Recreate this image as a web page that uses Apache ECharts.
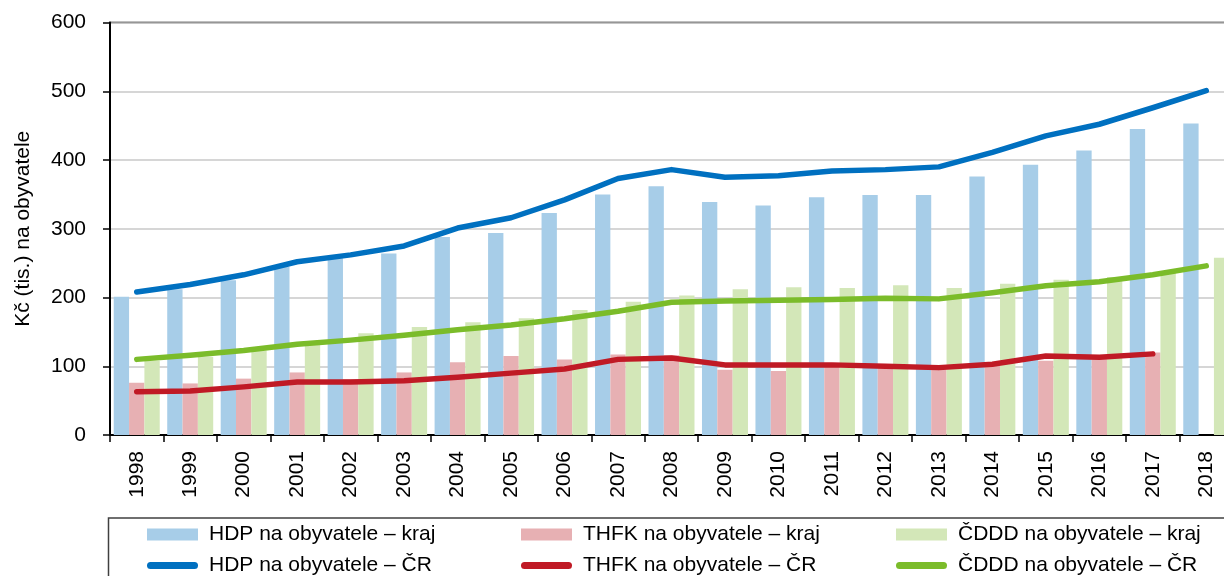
<!DOCTYPE html>
<html><head><meta charset="utf-8">
<script src="https://cdn.jsdelivr.net/npm/echarts@6/dist/echarts.min.js"></script>
<style>html,body{margin:0;padding:0;background:#fff}#c{width:1224px;height:576px}</style>
</head><body><div id="c"></div>
<script>
const years = ['1998','1999','2000','2001','2002','2003','2004','2005','2006','2007','2008','2009','2010','2011','2012','2013','2014','2015','2016','2017','2018'];
const hdpKraj = [201,212,225,245,257,264,288,294,323,350,362,339,334,346,349,349,376,393,414,445,453];
const thfkKraj = [76,75,82,91,81,91,106,115,110,117,116,95,93,101,99,96,103,108,114,120,null];
const cdddKraj = [108,114,123,131,148,157,164,170,182,194,203,212,215,214,218,214,220,226,230,237,258];
const hdpCR = [208,219,233,252,262,275,301,316,342,373,386,375,377,384,386,390,411,435,452,476,501];
const thfkCR = [63,64,70,77,77,79,84,90,96,110,112,102,102,102,100,98,103,115,113,118,null];
const cdddCR = [110,116,123,132,138,145,153,160,169,180,193,195,196,197,199,198,207,217,223,233,246];
const yTicks = [0,100,200,300,400,500,600];

const names = ['HDP na obyvatele – kraj','THFK na obyvatele – kraj','ČDDD na obyvatele – kraj',
               'HDP na obyvatele – ČR','THFK na obyvatele – ČR','ČDDD na obyvatele – ČR'];
const FONT = '"Liberation Sans", Arial, sans-serif';
const barColors = ['#a7cde8','#e7b0b3','#d3e7b8'];
const lineColors = ['#0070c0','#c01a25','#7bbc2a'];
const lineIcon = 'path://M3.5,0 H47.5 A3.5,3.5 0 0 1 47.5,7 H3.5 A3.5,3.5 0 0 1 3.5,0 Z';

const colX = [147,521,896];
const rowY = [524,555];
const legends = names.map((n,i)=>{
  const isLine = i>=3;
  return {
    show:true, data:[isLine?{name:n,icon:lineIcon}:{name:n,icon:'rect'}],
    left: colX[i%3], top: rowY[isLine?1:0], padding:0,
    itemWidth:51, itemHeight: isLine?7:12,
    selectedMode:false,
    textStyle:{fontSize:21,color:'#000',fontFamily:FONT,padding:[0,0,0,6]}
  };
});

const chart = echarts.init(document.getElementById('c'));
const barData = [hdpKraj,thfkKraj,cdddKraj];
const lineData = [hdpCR,thfkCR,cdddCR];
const series = [];
for(let i=0;i<3;i++){
  series.push({name:names[i],type:'bar',data:barData[i],barGap:'0%',barCategoryGap:'14%',
    itemStyle:{color:barColors[i]},z:2,animation:false});
}
for(let i=0;i<3;i++){
  series.push({name:names[i+3],type:'line',data:lineData[i],symbol:'none',showSymbol:false,
    lineStyle:{color:lineColors[i],width:5.5,cap:'round',join:'round'},itemStyle:{color:lineColors[i]},
    z:5,animation:false,connectNulls:false});
}
chart.setOption({
  animation:false,
  textStyle:{fontFamily:FONT},
  grid:{left:110,top:22.5,right:-9,bottom:141,containLabel:false,outerBoundsMode:'none',
    show:true,borderColor:'#000',borderWidth:1.5,backgroundColor:'transparent'},
  legend:legends,
  xAxis:{type:'category',data:years,boundaryGap:true,
    axisLine:{lineStyle:{color:'#000',width:2}},
    axisTick:{show:true,interval:0,length:7,lineStyle:{color:'#000',width:1.5}},
    axisLabel:{rotate:90,interval:0,fontSize:21,color:'#000',margin:16,fontFamily:FONT}},
  yAxis:{type:'value',min:yTicks[0],max:yTicks[yTicks.length-1],interval:100,
    name:'Kč (tis.) na obyvatele',nameLocation:'middle',nameGap:76,
    nameTextStyle:{fontSize:21,color:'#000',fontFamily:FONT},
    axisLine:{show:true,lineStyle:{color:'#000',width:2}},
    axisTick:{show:true,length:7,lineStyle:{color:'#000',width:1.5}},
    axisLabel:{fontSize:21,color:'#000',margin:24,fontFamily:FONT},
    splitLine:{show:true,lineStyle:{color:'#c8c8c8',width:1.5}}},
  graphic:[{type:'rect',shape:{x:108.5,y:518,width:1200,height:100},
    style:{fill:'none',stroke:'#404040',lineWidth:1.5},silent:true,z:0}],
  series:series
});
</script></body></html>
